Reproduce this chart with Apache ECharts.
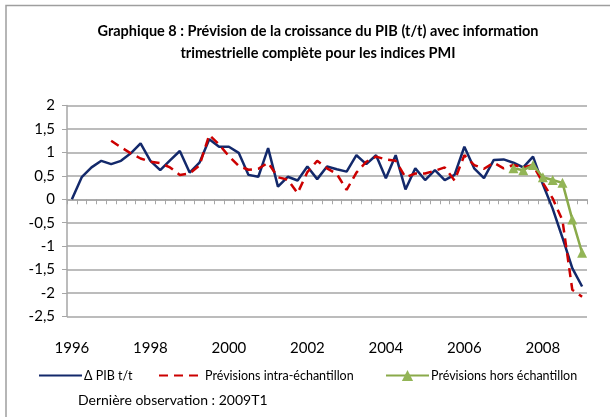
<!DOCTYPE html>
<html>
<head>
<meta charset="utf-8">
<script src="https://cdn.jsdelivr.net/npm/echarts@6/dist/echarts.min.js"></script>
<style>
html,body{margin:0;padding:0;background:#fff;}
#c{width:610px;height:417px;}
</style>
</head>
<body>
<div id="c"></div>
<script>
var categories = [
 '1996T1','1996T2','1996T3','1996T4','1997T1','1997T2','1997T3','1997T4',
 '1998T1','1998T2','1998T3','1998T4','1999T1','1999T2','1999T3','1999T4',
 '2000T1','2000T2','2000T3','2000T4','2001T1','2001T2','2001T3','2001T4',
 '2002T1','2002T2','2002T3','2002T4','2003T1','2003T2','2003T3','2003T4',
 '2004T1','2004T2','2004T3','2004T4','2005T1','2005T2','2005T3','2005T4',
 '2006T1','2006T2','2006T3','2006T4','2007T1','2007T2','2007T3','2007T4',
 '2008T1','2008T2','2008T3','2008T4','2009T1'
];
var pibTT = [
 0, 0.47, 0.68, 0.82, 0.75, 0.82, 0.98, 1.19,
 0.82, 0.62, 0.83, 1.03, 0.57, 0.78, 1.28, 1.12,
 1.12, 0.99, 0.52, 0.48, 1.09, 0.27, 0.48, 0.40,
 0.70, 0.43, 0.70, 0.64, 0.59, 0.94, 0.75, 0.94,
 0.45, 0.94, 0.21, 0.66, 0.41, 0.62, 0.41, 0.52,
 1.12, 0.66, 0.45, 0.84, 0.85, 0.78, 0.68, 0.91,
 0.32, -0.20, -0.82, -1.47, -1.86
];
var previsionsIntra = [
 null, null, null, null, 1.25, 1.11, 0.98, 0.87,
 0.80, 0.77, 0.68, 0.52, 0.55, 0.72, 1.37, 1.17,
 0.92, 0.71, 0.63, 0.65, 0.78, 0.47, 0.42, 0.13,
 0.58, 0.82, 0.66, 0.54, 0.20, 0.57, 0.80, 0.91,
 0.85, 0.82, 0.47, 0.55, 0.55, 0.61, 0.68, 0.40,
 0.94, 0.73, 0.65, 0.78, 0.66, 0.73, 0.68, 0.73,
 0.35, 0.02, -0.45, -1.93, -2.08
];
var previsionsHors = [
 null, null, null, null, null, null, null, null,
 null, null, null, null, null, null, null, null,
 null, null, null, null, null, null, null, null,
 null, null, null, null, null, null, null, null,
 null, null, null, null, null, null, null, null,
 null, null, null, null, null, 0.66, 0.62, 0.73,
 0.47, 0.41, 0.35, -0.43, -1.14
];
var seriesNames = ['\u0394 PIB t/t', 'Pr\u00e9visions intra-\u00e9chantillon', 'Pr\u00e9visions hors \u00e9chantillon'];
var titleText = 'Graphique 8 : Pr\u00e9vision de la croissance du PIB (t/t) avec information\ntrimestrielle compl\u00e8te pour les indices PMI';
var noteText = 'Derni\u00e8re observation : 2009T1';

var FONT = 'Lato, "Open Sans", sans-serif';
var GRID_C = '#a6a6a6';
var legendText = {fontFamily: FONT, fontSize: 12.5, color: '#000', padding: [0, 0, 0, -3]};
var chart = echarts.init(document.getElementById('c'), null, {renderer: 'canvas'});
chart.setOption({
  animation: false,
  backgroundColor: '#ffffff',
  textStyle: {fontFamily: FONT},
  title: {
    text: titleText,
    left: 313, top: 15,
    textAlign: 'center',
    textStyle: {fontFamily: FONT, fontSize: 14.5, fontWeight: 'bold', color: '#000', lineHeight: 22.5}
  },
  graphic: [
    {type: 'polyline', shape: {points: [[6, 417], [6, 5.5], [610, 5.5]]}, style: {stroke: '#9e9e9e', lineWidth: 1.5, fill: null}, silent: true},
    {type: 'text', left: 78, top: 393, style: {text: noteText, font: '14px ' + FONT, fill: '#000'}}
  ],
  grid: {left: 67, right: 23, top: 105.5, bottom: 100.5},
  legend: [
    {data: [seriesNames[0]], left: 33, top: 364, itemWidth: 43, itemHeight: 14, itemGap: 0,
     itemStyle: {opacity: 0}, textStyle: legendText},
    {data: [seriesNames[1]], left: 153, top: 364, itemWidth: 44, itemHeight: 14, itemGap: 0,
     itemStyle: {opacity: 0}, textStyle: legendText},
    {data: [seriesNames[2]], left: 380, top: 364, itemWidth: 43, itemHeight: 14, itemGap: 0,
     textStyle: legendText}
  ],
  xAxis: [
    {type: 'category', data: categories, position: 'bottom', boundaryGap: true,
     axisLine: {show: false, onZero: false}, axisTick: {show: false},
     axisLabel: {interval: 7, margin: 24, fontSize: 15, color: '#000', fontFamily: FONT,
       formatter: function (v) { return v.slice(0, 4); }},
     splitLine: {show: false}},
    {type: 'category', data: categories, position: 'bottom', boundaryGap: true,
     axisLine: {show: true, onZero: true, lineStyle: {color: GRID_C, width: 1.5}},
     axisTick: {show: true, interval: 0, length: 5, lineStyle: {color: GRID_C, width: 1}},
     axisLabel: {show: false}, splitLine: {show: false}}
  ],
  yAxis: {
    type: 'value', min: -2.5, max: 2, interval: 0.5,
    axisLine: {show: true, lineStyle: {color: GRID_C, width: 1.5}},
    axisTick: {show: true, length: 5, lineStyle: {color: GRID_C}},
    axisLabel: {fontSize: 15, color: '#000', margin: 12, fontFamily: FONT,
      formatter: function (v) { return String(v).replace('.', ','); }},
    splitLine: {show: true, lineStyle: {color: GRID_C, width: 1.5}}
  },
  series: [
    {name: seriesNames[0], type: 'line', data: pibTT, xAxisIndex: 0, symbol: 'none', showSymbol: false,
     lineStyle: {color: '#13296b', width: 2.5}, itemStyle: {color: '#13296b'}, z: 3},
    {name: seriesNames[1], type: 'line', data: previsionsIntra, xAxisIndex: 0, symbol: 'none', showSymbol: false,
     lineStyle: {color: '#cc0000', width: 2.5, type: [9, 6]}, itemStyle: {color: '#cc0000'}, z: 4},
    {name: seriesNames[2], type: 'line', data: previsionsHors, xAxisIndex: 0, symbol: 'triangle', symbolSize: 10,
     showSymbol: true, showAllSymbol: true,
     lineStyle: {color: '#8aaa4a', width: 2.5}, itemStyle: {color: '#93b556'}, z: 5}
  ]
});
</script>
</body>
</html>
